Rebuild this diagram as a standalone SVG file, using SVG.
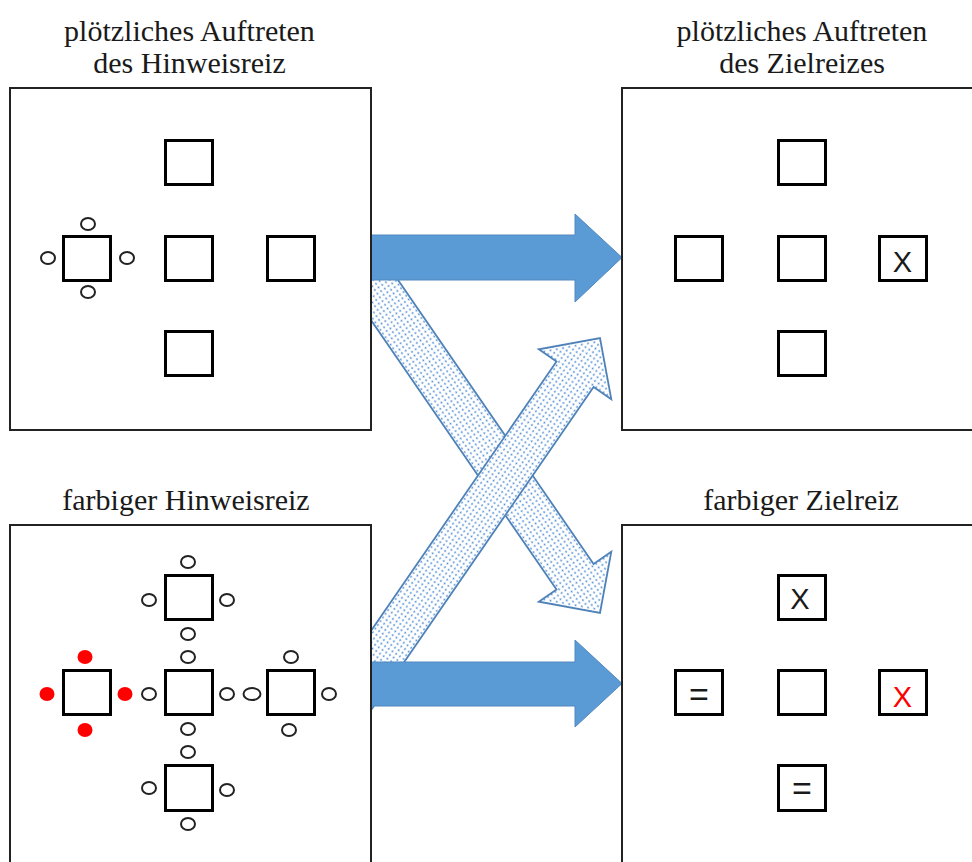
<svg xmlns="http://www.w3.org/2000/svg" width="972" height="862" viewBox="0 0 972 862">
<style>
.panel{fill:#fff;stroke:#222;stroke-width:2}
.sq{fill:#fff;stroke:#000;stroke-width:3}
.c{fill:#fff;stroke:#222;stroke-width:2}
.r{fill:#ff0000;stroke:none}
.title{font-family:'Liberation Serif','DejaVu Serif',serif;font-size:30px;fill:#1a1a1a;text-anchor:middle}
.sym{font-family:'Liberation Sans','DejaVu Sans',sans-serif;font-size:29px;fill:#1a1a1a;text-anchor:middle}
.eq{font-family:'Liberation Sans','DejaVu Sans',sans-serif;font-size:34px;fill:#1a1a1a;text-anchor:middle}
.solid{fill:#5b9bd5;stroke:#5088bf;stroke-width:1}
.dotted{fill:url(#dots);stroke:#4f82b8;stroke-width:1.8;stroke-linejoin:miter}
</style>
<defs>
<pattern id="dots" width="4.5" height="4.5" patternUnits="userSpaceOnUse">
<rect width="4.5" height="4.5" fill="#fff"/>
<circle cx="2.25" cy="2.25" r="1" fill="#4a8ad0"/>
</pattern>
<path id="arrowShape" d="M -500,-22.5 L -44,-22.5 L -44,-44 L 0,0 L -44,44 L -44,22.5 L -500,22.5 Z"/>
</defs>
<rect width="972" height="862" fill="#fff"/>

<g id="connectors">
<use href="#arrowShape" class="dotted" transform="translate(600,613) rotate(55.45)"/>
<use href="#arrowShape" class="dotted" transform="translate(600,338) rotate(-55.45)"/>
<path class="solid" d="M 371,235 L 575,235 L 575,214 L 622,257.5 L 575,302 L 575,280 L 371,280 Z"/>
<path class="solid" d="M 371,662 L 575,662 L 575,640 L 622,683.5 L 575,727 L 575,706 L 371,706 Z"/>
</g>

<g id="panel-cue-onset">
<text class="title" x="189.5" y="41">plötzliches Auftreten</text>
<text class="title" x="189.5" y="72.5">des Hinweisreiz</text>
<rect class="panel" x="10" y="88" width="361" height="342"/>
<rect class="sq" x="165.5" y="140.5" width="47" height="44"/>
<rect class="sq" x="63.5" y="236.5" width="47" height="44"/>
<rect class="sq" x="165.5" y="236.5" width="47" height="44"/>
<rect class="sq" x="267.5" y="236.5" width="47" height="44"/>
<rect class="sq" x="165.5" y="331.5" width="47" height="44"/>
<ellipse class="c" cx="88" cy="224" rx="7" ry="6"/>
<ellipse class="c" cx="48" cy="258" rx="7" ry="6"/>
<ellipse class="c" cx="127" cy="258" rx="7" ry="6"/>
<ellipse class="c" cx="88" cy="292" rx="7" ry="6"/>
</g>

<g id="panel-target-onset">
<text class="title" x="802" y="41">plötzliches Auftreten</text>
<text class="title" x="802" y="72.5">des Zielreizes</text>
<rect class="panel" x="622" y="88" width="370" height="342"/>
<rect class="sq" x="778.5" y="140.5" width="47" height="44"/>
<rect class="sq" x="675.5" y="236.5" width="47" height="44"/>
<rect class="sq" x="778.5" y="236.5" width="47" height="44"/>
<rect class="sq" x="879.5" y="236.5" width="47" height="44"/>
<rect class="sq" x="778.5" y="331.5" width="47" height="44"/>
<text class="sym" x="902.5" y="272">X</text>
</g>

<g id="panel-colored-cue">
<text class="title" x="186" y="510">farbiger Hinweisreiz</text>
<rect class="panel" x="10" y="525" width="361" height="360"/>
<rect class="sq" x="165.5" y="575.5" width="47" height="44"/>
<rect class="sq" x="63.5" y="670.5" width="47" height="44"/>
<rect class="sq" x="165.5" y="670.5" width="47" height="44"/>
<rect class="sq" x="267.5" y="670.5" width="47" height="44"/>
<rect class="sq" x="165.5" y="765.5" width="47" height="45"/>
<ellipse class="c" cx="188" cy="562" rx="7" ry="6"/>
<ellipse class="c" cx="149" cy="600" rx="7" ry="6"/>
<ellipse class="c" cx="227" cy="600" rx="7" ry="6"/>
<ellipse class="c" cx="188" cy="634" rx="7" ry="6"/>
<ellipse class="c" cx="188" cy="657" rx="7" ry="6"/>
<ellipse class="c" cx="149" cy="694" rx="7" ry="6"/>
<ellipse class="c" cx="227" cy="694" rx="7" ry="6"/>
<ellipse class="c" cx="188" cy="729" rx="7" ry="6"/>
<ellipse class="r" cx="85" cy="657" rx="7.5" ry="7"/>
<ellipse class="r" cx="47" cy="694" rx="7.5" ry="7"/>
<ellipse class="r" cx="125" cy="694" rx="7.5" ry="7"/>
<ellipse class="r" cx="85" cy="730" rx="7.5" ry="7"/>
<ellipse class="c" cx="291" cy="657" rx="7" ry="6"/>
<ellipse class="c" cx="252" cy="694" rx="8.5" ry="6"/>
<ellipse class="c" cx="329" cy="694" rx="7" ry="6"/>
<ellipse class="c" cx="289" cy="730" rx="7" ry="6"/>
<ellipse class="c" cx="188" cy="752" rx="7" ry="6"/>
<ellipse class="c" cx="149" cy="788" rx="7" ry="6"/>
<ellipse class="c" cx="227" cy="790" rx="7" ry="6"/>
<ellipse class="c" cx="188" cy="824" rx="7" ry="6"/>
</g>

<g id="panel-colored-target">
<text class="title" x="801" y="510">farbiger Zielreiz</text>
<rect class="panel" x="622" y="525" width="370" height="360"/>
<rect class="sq" x="778.5" y="575.5" width="47" height="44"/>
<rect class="sq" x="675.5" y="670.5" width="47" height="44"/>
<rect class="sq" x="778.5" y="670.5" width="47" height="44"/>
<rect class="sq" x="879.5" y="670.5" width="47" height="44"/>
<rect class="sq" x="778.5" y="765.5" width="47" height="45"/>
<text class="sym" x="800" y="609">X</text>
<text class="sym" x="902.5" y="707" style="fill:#ff0000">X</text>
<text class="eq" x="699" y="706">=</text>
<text class="eq" x="802" y="800">=</text>
</g>
</svg>
